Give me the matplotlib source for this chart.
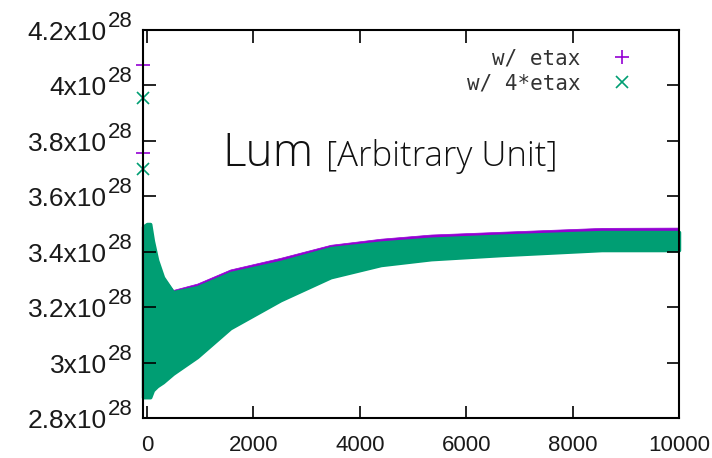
import matplotlib
matplotlib.use("Agg")
import matplotlib.pyplot as plt
import matplotlib.transforms as mtransforms
from matplotlib import font_manager

# ---- data (values in units of 1e28) ----
# envelope of the dense oscillating band, w/ etax (purple)
etax_x     = [-75, 0, 60, 110, 190, 300, 490, 943, 1566, 2510, 3453, 4397, 5340, 6660, 8547, 10000]
etax_upper = [3.49, 3.50, 3.50, 3.44, 3.37, 3.31, 3.262, 3.285, 3.336, 3.378, 3.425, 3.447, 3.462, 3.472, 3.486, 3.487]
etax_lower = [2.90, 2.90, 2.90, 2.94, 2.96, 2.98, 3.00, 3.06, 3.16, 3.25, 3.33, 3.37, 3.39, 3.40, 3.42, 3.42]
# envelope of the band, w/ 4*etax (green)
etax4_x     = [-75, 0, 60, 110, 190, 300, 490, 943, 1566, 2510, 3453, 4397, 5340, 6660, 8547, 10000]
etax4_upper = [3.49, 3.50, 3.50, 3.44, 3.37, 3.308, 3.254, 3.272, 3.323, 3.363, 3.413, 3.433, 3.447, 3.458, 3.471, 3.471]
etax4_lower = [2.875, 2.875, 2.875, 2.90, 2.915, 2.929, 2.96, 3.02, 3.124, 3.225, 3.308, 3.352, 3.373, 3.388, 3.406, 3.406]
# isolated early points
etax_pts_x  = [-75, -75]
etax_pts_y  = [4.074, 3.756]
etax4_pts_x = [-75, -75]
etax4_pts_y = [3.955, 3.698]

xticks = [0, 2000, 4000, 6000, 8000, 10000]
yticks = [2.8, 3.0, 3.2, 3.4, 3.6, 3.8, 4.0, 4.2]
ytick_mantissa = ['2.8', '3', '3.2', '3.4', '3.6', '3.8', '4', '4.2']
ytick_exponent = '28'

purple = '#9400D3'
green = '#009E73'

fig = plt.figure(figsize=(7.12, 4.58), dpi=100)
ax = fig.add_axes([143/712, 40/458, (679-143)/712, (418-30)/458])

ax.fill_between(etax_x, etax_lower, etax_upper, color=purple, lw=0.5, edgecolor=purple)
ax.fill_between(etax4_x, etax4_lower, etax4_upper, color=green, lw=2.5, edgecolor=green,
                clip_on=False)

ax.plot(etax_pts_x, etax_pts_y, '+', color=purple, ms=10, mew=1.2, clip_on=False, label='w/ etax')
ax.plot(etax4_pts_x, etax4_pts_y, 'x', color=green, ms=9, mew=1.2, clip_on=False, label='w/ 4*etax')

ax.set_xlim(-75, 10000)
ax.set_ylim(2.8, 4.2)
ax.set_xticks(xticks)
ax.set_xticklabels([str(t) for t in xticks])
ax.set_yticks(yticks)
ax.set_yticklabels([])

ax.tick_params(direction='in', length=9, width=1.2, top=True, right=True, colors='black')
ax.tick_params(axis='x', labelsize=16, pad=12)
for lab in ax.get_xticklabels():
    lab.set_family('Liberation Sans')
    lab.set_color('#1a1a1a')

# y tick labels: mantissa "x10" with raised exponent
ytrans = ax.get_yaxis_transform()
for val, man in zip(yticks, ytick_mantissa):
    t_main = mtransforms.offset_copy(ytrans, fig=fig, x=-36, y=-10, units='dots')
    ax.text(0, val, man + 'x10', transform=t_main, ha='right', va='baseline',
            fontsize=19, family='Liberation Sans', color='#1a1a1a', clip_on=False)
    t_exp = mtransforms.offset_copy(ytrans, fig=fig, x=-35, y=3, units='dots')
    ax.text(0, val, ytick_exponent, transform=t_exp, ha='left', va='baseline',
            fontsize=16, family='Liberation Sans', color='#1a1a1a', clip_on=False)

for sp in ax.spines.values():
    sp.set_linewidth(1.5)

leg = ax.legend(loc='upper right', bbox_to_anchor=(643/712, 1 - 40/458), bbox_transform=fig.transFigure,
                frameon=False, markerfirst=False, handlelength=1.2, handletextpad=1.4,
                labelspacing=0.25, borderaxespad=0,
                prop=font_manager.FontProperties(family='DejaVu Sans Mono', size=15))
for t in leg.get_texts():
    t.set_color('#333333')
    t.set_ha('right')

fig.text(222/712, 1 - 166/458, 'Lum', fontsize=33, family='Open Sans', fontweight='light',
         color='#111111', va='baseline')
fig.text(326/712, 1 - 166/458, '[Arbitrary Unit]', fontsize=25, family='Open Sans', fontweight='light',
         color='#111111', va='baseline')

fig.savefig('out.png', dpi=100)
